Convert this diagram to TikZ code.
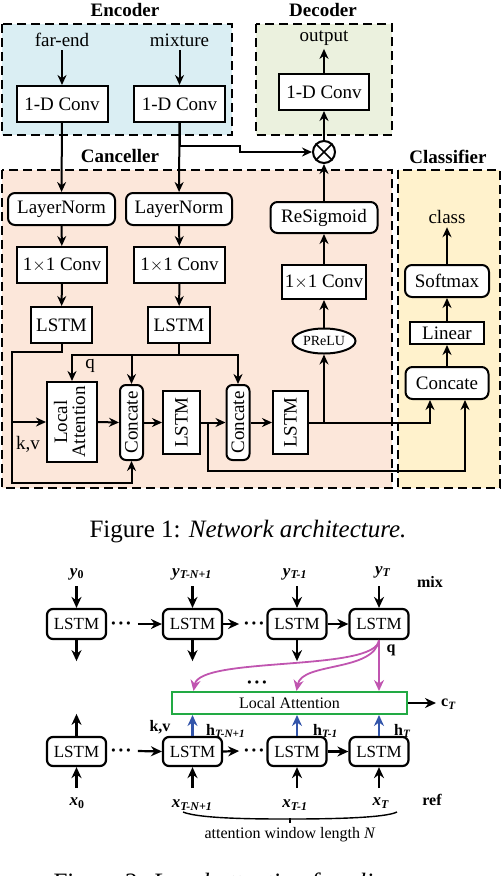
\documentclass[tikz,border=0pt]{standalone}
\usepackage{fontspec}
\setmainfont{Liberation Serif}
\usetikzlibrary{arrows.meta,shapes.geometric}
\definecolor{encb}{HTML}{DAEEF3}
\definecolor{decg}{HTML}{EBF1DE}
\definecolor{canc}{HTML}{FCE7DA}
\definecolor{clsy}{HTML}{FFF2CC}
\definecolor{pinkc}{HTML}{C055B0}
\definecolor{bluec}{HTML}{3355AA}
\definecolor{greenc}{HTML}{22AA44}
\begin{document}
\begin{tikzpicture}[x=1pt,y=-1pt,
  font=\fontsize{19}{21}\selectfont,
  bx/.style={draw,line width=2pt,fill=white,inner sep=0pt},
  rbx/.style={bx,rounded corners=7pt},
  arr/.style={line width=2pt,-{Stealth[length=10pt,width=9pt]}},
  ln/.style={line width=2pt},
  dbox/.style={line width=2.2pt,dash pattern=on 9pt off 5pt},
  ttl/.style={font=\fontsize{19}{21}\selectfont\bfseries},
  arrb/.style={line width=2.2pt,-{Stealth[length=11pt,width=10pt]}},
  parr/.style={line width=1.8pt,pinkc,-{Stealth[length=11pt,width=10pt]}},
  barr/.style={line width=2.2pt,bluec,-{Stealth[length=11pt,width=10pt]}},
  lbl/.style={font=\fontsize{16}{18}\selectfont\bfseries,inner sep=1pt},
  dots/.style={inner sep=0pt,font=\fontsize{8}{8}\selectfont},
]
\useasboundingbox (0,0) rectangle (502,876);
% ---------- Figure 1 backgrounds
\fill[encb] (2,24) rectangle (232,135);
\draw[dbox] (2,24) rectangle (232,135);
\fill[decg] (256,24) rectangle (392,135);
\draw[dbox] (256,24) rectangle (392,135);
\fill[canc] (2,170) rectangle (392,488);
\draw[dbox] (2,170) rectangle (392,488);
\fill[clsy] (398,170) rectangle (500,488);
\draw[dbox] (398,170) rectangle (500,488);
\node[ttl] (tenc) at (125,10) {Encoder};
\node[ttl] (tdec) at (323,10) {Decoder};
\node[ttl] (tcan) at (120,156) {Canceller};
\node[ttl] (tcls) at (448,157) {Classifier};
% Encoder
\node (fe) at (62,40) {far-end};
\node (mx) at (179.5,40) {mixture};
\node[bx,minimum width=91pt,minimum height=36pt] (ec1) at (62,104) {1-D Conv};
\node[bx,minimum width=91pt,minimum height=36pt] (ec2) at (179.5,104) {1-D Conv};
\draw[arr] (fe) -- (ec1);
\draw[arr] (mx) -- (ec2);
% Decoder
\node (out) at (324,38) {output};
\node[bx,minimum width=90pt,minimum height=36pt] (dc) at (324,92) {1-D Conv};
\node[draw,circle,line width=2pt,minimum size=22pt,inner sep=0pt,fill=white] (mul) at (324,152) {};
\draw[line width=1.6pt] (mul.north west) -- (mul.south east) (mul.north east) -- (mul.south west);
\draw[arr] (dc) -- (out);
\draw[arr] (mul) -- (dc);
\draw[arr] (ec2.south) -- ++(0,23) -| (240,152) -- (mul.west);
% Canceller columns
\node[rbx,minimum width=107pt,minimum height=32pt] (ln1) at (61.5,209) {LayerNorm};
\node[rbx,minimum width=106pt,minimum height=32pt] (ln2) at (179,209) {LayerNorm};
\node[bx,minimum width=90pt,minimum height=36pt] (c11) at (62,265) {1$\times$1 Conv};
\node[bx,minimum width=91pt,minimum height=36pt] (c12) at (179.5,265) {1$\times$1 Conv};
\node[bx,minimum width=61pt,minimum height=36pt] (ls1) at (61.5,325) {LSTM};
\node[bx,minimum width=62pt,minimum height=36pt] (ls2) at (179,325) {LSTM};
\draw[arr] (ec1) -- (ln1);
\draw[arr] (ec2) -- (ln2);
\draw[arr] (ln1) -- (c11);
\draw[arr] (ln2) -- (c12);
\draw[arr] (c11) -- (ls1);
\draw[arr] (c12) -- (ls2);
% right column
\node[rbx,minimum width=107pt,minimum height=31pt] (rs) at (324,217.5) {ReSigmoid};
\node[bx,minimum width=84pt,minimum height=34pt] (c13) at (324,282) {1$\times$1 Conv};
\node[draw,ellipse,line width=2pt,fill=white,minimum width=63pt,minimum height=25pt,inner sep=0pt,font=\fontsize{14}{16}\selectfont] (pr) at (324,341) {PReLU};
\draw[arr] (pr) -- (c13);
\draw[arr] (c13) -- (rs);
\draw[arr] (rs) -- (mul);
% middle row
\node[bx,minimum width=50pt,minimum height=80pt] (la) at (72,422) {\rotatebox{90}{\begin{tabular}{@{}c@{}}Local\\[-3pt]Attention\end{tabular}}};
\node[rbx,rounded corners=6pt,minimum width=23pt,minimum height=75pt] (k1) at (131.5,422.5) {\rotatebox{90}{Concate}};
\node[bx,minimum width=37pt,minimum height=63pt] (lm1) at (181.5,422.5) {\rotatebox{90}{LSTM}};
\node[rbx,rounded corners=6pt,minimum width=23pt,minimum height=75pt] (k2) at (238,422.5) {\rotatebox{90}{Concate}};
\node[bx,minimum width=35pt,minimum height=63pt] (lm2) at (290.5,422.5) {\rotatebox{90}{LSTM}};
\coordinate (kv) at (12,422);
\coordinate (qj) at (179,355);
\coordinate (br1) at (208,422.5);
\coordinate (br2) at (324,422.5);
\draw[arr] (ls1.south) |- (12,352) -- (12,483) -| (k1.south);
\draw[arr] (kv) -- (la.west);
\node (kvl) at (28,444) {k,v};
\draw[ln] (ls2.south) -- (qj);
\draw[arr] (qj) -| (la.north);
\draw[arr] (qj) -| (k1.north);
\draw[arr] (qj) -| (k2.north);
\node (ql) at (90,366) {q};
\draw[arr] (la.east) -- (k1.west);
\draw[arr] (k1.east) -- (lm1.west);
\draw[arr] (lm1.east) -- (k2.west);
\draw[arr] (k2.east) -- (lm2.west);
% classifier
\node (cls) at (447,217) {class};
\node[rbx,minimum width=84pt,minimum height=32pt] (smx) at (447,281) {Softmax};
\node[bx,minimum width=74pt,minimum height=22pt] (lin) at (447,333) {Linear};
\node[rbx,minimum width=83pt,minimum height=32pt] (cc) at (447,383) {Concate};
\draw[arr] (cc) -- (lin);
\draw[arr] (lin) -- (smx);
\draw[arr] (smx) -- (cls);
\draw[arr] (br1) |- (465,471) -- ([xshift=18pt]cc.south);
\draw[arr] (lm2.east) -| ([xshift=-17pt]cc.south);
\draw[arr] (br2) -- (pr.south);
\node[font=\fontsize{25}{28}\selectfont] (cap1) at (248,532) {Figure 1: \textit{Network architecture.}};
% ---------- Figure 2
\begin{scope}[font=\fontsize{17}{19}\selectfont]
\foreach \n/\x in {1/76.5,2/192.5,3/297,4/379}{
  \node[rbx,rounded corners=6pt,line width=2.2pt,minimum width=59pt,minimum height=30pt] (u\n) at (\x,624) {LSTM};
  \node[rbx,rounded corners=6pt,line width=2.2pt,minimum width=59pt,minimum height=29pt] (b\n) at (\x,751.5) {LSTM};
  \coordinate (ya\n) at (\x,586);
  \coordinate (xa\n) at (\x,788);
  \draw[arrb] (ya\n) -- (u\n.north);
  \draw[arrb] (xa\n) -- (b\n.south);
}
\end{scope}
\node[font=\fontsize{17}{19}\selectfont,inner sep=0pt] (yl1) at (77,574) {\textbf{\textit{y}}\textsubscript{\textbf{0}}};
\node[font=\fontsize{17}{19}\selectfont,inner sep=0pt] (yl2) at (192,574) {\textbf{\textit{y}}\textsubscript{\textbf{\textit{T-N+1}}}};
\node[font=\fontsize{17}{19}\selectfont,inner sep=0pt] (yl3) at (295,574) {\textbf{\textit{y}}\textsubscript{\textbf{\textit{T-1}}}};
\node[font=\fontsize{17}{19}\selectfont,inner sep=0pt] (yl4) at (383,572) {\textbf{\textit{y}}\textsubscript{\textbf{\textit{T}}}};
\node[font=\fontsize{17}{19}\selectfont,inner sep=0pt] (xl1) at (77,803) {\textbf{\textit{x}}\textsubscript{\textbf{0}}};
\node[font=\fontsize{17}{19}\selectfont,inner sep=0pt] (xl2) at (192,805) {\textbf{\textit{x}}\textsubscript{\textbf{\textit{T-N+1}}}};
\node[font=\fontsize{17}{19}\selectfont,inner sep=0pt] (xl3) at (295,805) {\textbf{\textit{x}}\textsubscript{\textbf{\textit{T-1}}}};
\node[font=\fontsize{17}{19}\selectfont,inner sep=0pt] (xl4) at (381,803) {\textbf{\textit{x}}\textsubscript{\textbf{\textit{T}}}};
\node[lbl] (mix) at (430,582) {mix};
\node[lbl] (refl) at (432,800) {ref};
% down arrows from upper LSTMs
\draw[arrb] (u1.south) -- ++(0,21);
\draw[arrb] (u2.south) -- ++(0,21);
\draw[arrb] (u3.south) -- ++(0,21);
\draw[arrb] (b1.north) -- ++(0,-22);
% dots and horizontal arrows
\node[dots] (d1) at (121,624) {$\bullet\,\bullet\,\bullet$};
\node[dots] (d2) at (254,624) {$\bullet\,\bullet\,\bullet$};
\node[dots] (d3) at (121,751) {$\bullet\,\bullet\,\bullet$};
\node[dots] (d4) at (254,751) {$\bullet\,\bullet\,\bullet$};
\node[dots] (d5) at (257,683) {$\bullet\,\bullet\,\bullet$};
\draw[arrb] ([xshift=7pt]d1.east) -- (u2.west);
\draw[arrb] (u2.east) -- ([xshift=-5pt]d2.west);
\draw[arrb] (u3.east) -- (u4.west);
\draw[arrb] ([xshift=7pt]d3.east) -- (b2.west);
\draw[arrb] (b2.east) -- ([xshift=-5pt]d4.west);
\draw[arrb] (b3.east) -- (b4.west);
% local attention
\node[draw=greenc,line width=2pt,fill=white,minimum width=235pt,minimum height=22pt,inner sep=0pt,font=\fontsize{16}{18}\selectfont] (la2) at (289.5,703) {Local Attention};
\draw[arrb] (la2.east) -- ++(28,0) coordinate (ct);
\node[lbl,anchor=west] (ctl) at (440,704) {c\textsubscript{\textit{T}}};
\draw[barr] (b2.north) -- (b2.north |- la2.south);
\draw[barr] (b3.north) -- (b3.north |- la2.south);
\draw[barr] (b4.north) -- (b4.north |- la2.south);
\draw[parr] (u4.south) -- (u4.south |- la2.north);
\draw[parr] (u4.south) .. controls (376,672) and (200,656) .. ([xshift=-96pt]la2.north);
\draw[parr] (u4.south) .. controls (374,672) and (302,662) .. ([xshift=7pt]la2.north);
\node[lbl] (qq) at (391,650) {q};
\node[lbl] (kv2) at (160,727) {k,v};
\node[lbl,anchor=west] (h1) at (205,731) {h\textsubscript{\textit{T-N+1}}};
\node[lbl,anchor=west] (h2) at (312,731) {h\textsubscript{\textit{T-1}}};
\node[lbl,anchor=west] (h3) at (393,731) {h\textsubscript{\textit{T}}};
\draw[line width=1.4pt] (183,812) .. controls (200,819) and (260,819) .. (290,819) .. controls (330,819) and (385,818) .. (397,812);
\draw[line width=1.4pt] (290,818) -- (290,823);
\node[font=\fontsize{16}{18}\selectfont] (awl) at (290,835) {attention window length \textit{N}};
\node[font=\fontsize{25}{28}\selectfont,anchor=base west] (cap2) at (50,890) {Figure 2: \textit{Local attention for aligner.}};
\end{tikzpicture}
\end{document}
